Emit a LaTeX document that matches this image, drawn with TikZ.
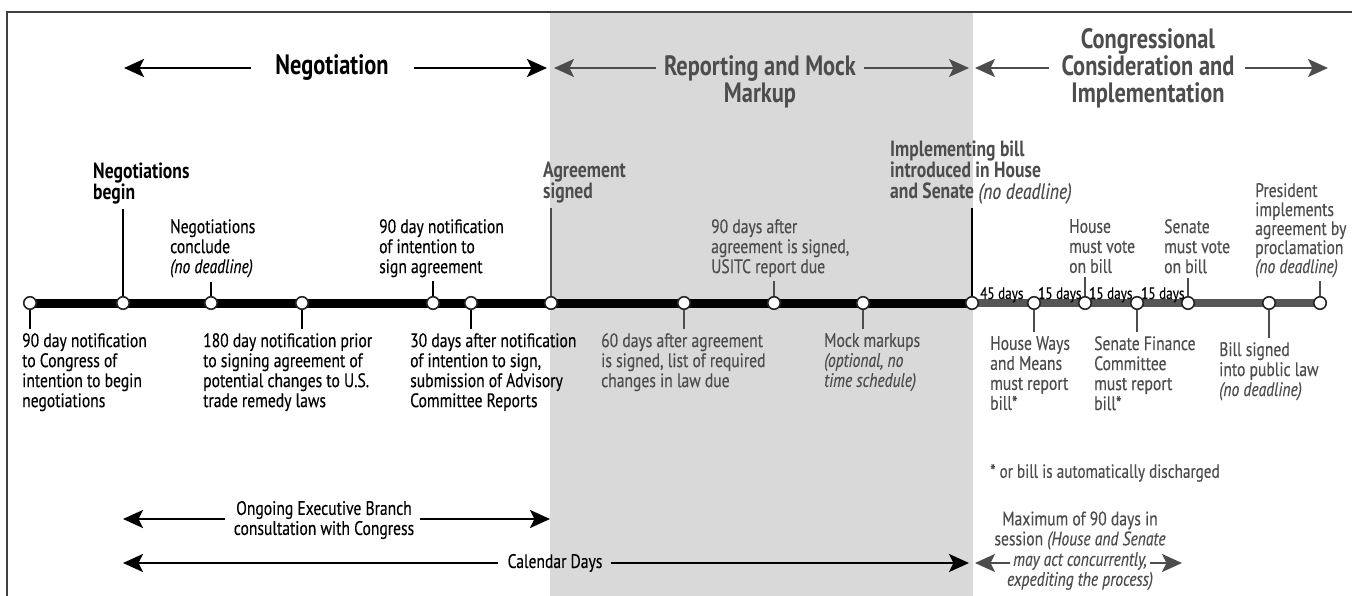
\documentclass[tikz,border=0pt]{standalone}
\usepackage{fontspec}
\setmainfont{PT Sans}[FakeStretch=0.8, UprightFeatures={FakeBold=0.3}, ItalicFeatures={FakeBold=0.3}]
\usetikzlibrary{arrows.meta}
\definecolor{dk}{HTML}{4D4D4D}
\definecolor{bgshade}{HTML}{D9D9D9}
\definecolor{tlgray}{HTML}{555555}
\begin{document}
\begin{tikzpicture}[x=1pt,y=-1pt,
  lbl/.style={anchor=north west, inner sep=0pt, align=left, font=\fontsize{19.5}{20}\selectfont},
  blbl/.style={anchor=north west, inner sep=0pt, align=left, font=\fontsize{22}{21}\selectfont\bfseries},
  ttl/.style={inner sep=0pt, align=center, font=\fontsize{28}{27}\selectfont\bfseries},
  mid/.style={inner sep=0pt, align=center, font=\fontsize{19.5}{20}\selectfont},
  tick/.style={line width=1.3pt},
  dot/.style={circle, draw=black!85, fill=white, line width=1.6pt, minimum size=12.5pt, inner sep=0pt},
  arr/.style={line width=2.8pt, -{Stealth[length=20pt,width=18pt,inset=4.5pt]}},
  days/.style={inner sep=0pt, anchor=base west, font=\fontsize{16.5}{18}\selectfont},
  frameline/.style={line width=1.5pt, black!75},
]
\useasboundingbox (0,0) rectangle (1352,596);
\fill[bgshade] (550,13) rectangle (973,596);
\draw[frameline] (7,596) -- (7,12) -- (1352,12);

% ---------------- titles ----------------
\node[ttl] (tneg) at (332,68) {Negotiation};
\coordinate (negL) at (124,68);
\coordinate (negR) at (547,68);
\draw[arr] ([xshift=-24pt]tneg.west) -- (negL);
\draw[arr] ([xshift=25pt]tneg.east) -- (negR);

\node[ttl, text=dk] (trep) at (760,81.5) {Reporting and Mock\\Markup};
\coordinate (repL) at (554,68);
\coordinate (repR) at (969,68);
\draw[arr, dk, line width=2.2pt] ([xshift=-8pt]trep.west |- repL) -- (repL);
\draw[arr, dk, line width=2.2pt] ([xshift=8pt]trep.east |- repR) -- (repR);

\node[ttl, text=dk] (tcon) at (1148,68) {Congressional\\Consideration and\\Implementation};
\coordinate (conL) at (975,68);
\coordinate (conR) at (1328,68);
\draw[arr, dk, line width=2.2pt] ([xshift=-12pt]tcon.west) -- (conL);
\draw[arr, dk, line width=2.2pt] ([xshift=10pt]tcon.east) -- (conR);

% ---------------- timeline ----------------
\foreach \n/\x in {1/30,2/123,3/211,4/302,5/433,6/471,7/551,8/684,9/774,10/863,11/972,12/1034,13/1085,14/1137,15/1188,16/1269,17/1320}
  \coordinate (c\n) at (\x,303);
\draw[line width=9pt] (c1) -- (c11);
\draw[line width=8pt, tlgray] (c11) -- (c17);
\foreach \n in {1,...,17} \node[dot] (d\n) at (c\n) {};

% ---------------- labels above ----------------
\node[blbl] (nb) at (93,163) {Negotiations\\begin};
\draw[tick] (d2.north) -- ([yshift=-4pt]d2.north |- nb.south);

\node[lbl] (nc) at (170,219) {Negotiations\\conclude\\\textit{(no deadline)}};
\draw[tick] (d3.north) -- ([yshift=-4pt]d3.north |- nc.south);

\node[lbl] (n90) at (379,219) {90 day notification\\of intention to\\sign agreement};
\draw[tick] (d5.north) -- ([yshift=-4pt]d5.north |- n90.south);

\node[blbl, text=dk] (as) at (543,162) {Agreement\\signed};
\draw[tick, dk] (d7.north) -- ([yshift=-4pt]d7.north |- as.south);

\node[lbl, text=dk] (u90) at (711,219) {90 days after\\agreement is signed,\\USITC report due};
\draw[tick, dk] (d9.north) -- ([yshift=-4pt]d9.north |- u90.south);

\node[blbl, text=dk] (ib) at (890,141) {Implementing bill\\introduced in House\\and Senate {\mdseries\itshape (no deadline)}};
\draw[tick] (d11.north) -- ([yshift=-4pt]d11.north |- ib.south);

\node[lbl, text=dk] (hv) at (1069,219) {House\\must vote\\on bill};
\draw[tick, dk] (d13.north) -- ([yshift=-4pt]d13.north |- hv.south);

\node[lbl, text=dk] (sv) at (1164,219) {Senate\\must vote\\on bill};
\draw[tick, dk] (d15.north) -- ([yshift=-4pt]d15.north |- sv.south);

\node[lbl, text=dk, font=\fontsize{19.5}{19}\selectfont] (pr) at (1255,183) {President\\implements\\agreement by\\proclamation\\\textit{(no deadline)}};
\draw[tick, dk] (d17.north) -- ([yshift=-4pt]d17.north |- pr.south);

% ---------------- day counts ----------------
\node[days] (g45) at (980,299) {45 days};
\node[days] (g15a) at (1038,299) {15 days};
\node[days] (g15b) at (1089,299) {15 days};
\node[days] (g15c) at (1141,299) {15 days};

% ---------------- labels below ----------------
\node[lbl] (b1) at (22,333) {90 day notification\\to Congress of\\intention to begin\\negotiations};
\draw[tick] (d1.south) -- ([yshift=4pt]d1.south |- b1.north);

\node[lbl] (b2) at (203,333) {180 day notification prior\\to signing agreement of\\potential changes to U.S.\\trade remedy laws};
\draw[tick] (d4.south) -- ([yshift=4pt]d4.south |- b2.north);

\node[lbl] (b3) at (410,333) {30 days after notification\\of intention to sign,\\submission of Advisory\\Committee Reports};
\draw[tick] (d6.south) -- ([yshift=4pt]d6.south |- b3.north);

\node[lbl, text=dk] (b4) at (601,333) {60 days after agreement\\is signed, list of required\\changes in law due};
\draw[tick, dk] (d8.south) -- ([yshift=4pt]d8.south |- b4.north);

\node[lbl, text=dk] (b5) at (824,333) {Mock markups\\\textit{(optional, no}\\\textit{time schedule)}};
\draw[tick, dk] (d10.south) -- ([yshift=4pt]d10.south |- b5.north);

\node[lbl, text=dk] (b6) at (990,336) {House Ways\\and Means\\must report\\bill*};
\draw[tick, dk] (d12.south) -- ([yshift=4pt]d12.south |- b6.north);

\node[lbl, text=dk] (b7) at (1094,336) {Senate Finance\\Committee\\must report\\bill*};
\draw[tick, dk] (d14.south) -- ([yshift=4pt]d14.south |- b7.north);

\node[lbl, text=dk] (b8) at (1219,342) {Bill signed\\into public law\\\textit{(no deadline)}};
\draw[tick, dk] (d16.south) -- ([yshift=4pt]d16.south |- b8.north);

% ---------------- footnote ----------------
\node[lbl, text=dk, font=\fontsize{19}{20}\selectfont] (fn) at (990,464) {* or bill is automatically discharged};

% ---------------- bottom spans ----------------
\node[mid] (og) at (324,520) {Ongoing Executive Branch\\consultation with Congress};
\coordinate (ogL) at (123,519);
\coordinate (ogR) at (550,519);
\draw[arr] ([xshift=-9pt]og.west |- ogL) -- (ogL);
\draw[arr] ([xshift=6pt]og.east |- ogR) -- (ogR);

\node[mid] (cd) at (555,563) {Calendar Days};
\coordinate (cdL) at (123,563);
\coordinate (cdR) at (969,563);
\draw[arr] ([xshift=-9pt]cd.west) -- (cdL);
\draw[arr] ([xshift=8pt]cd.east) -- (cdR);

\node[mid, text=dk] (mx1) at (1080,530.5) {Maximum of 90 days in\\session \textit{(House and Senate}};
\node[mid, text=dk] (mx2) at (1080,561) {\textit{may act concurrently,}};
\node[mid, text=dk] (mx3) at (1080,581) {\textit{expediting the process)}};
\coordinate (mxL) at (975,563);
\coordinate (mxR) at (1182,563);
\draw[arr, dk, line width=2.2pt] ([xshift=-3pt]mx2.west |- mxL) -- (mxL);
\draw[arr, dk, line width=2.2pt] ([xshift=3pt]mx2.east |- mxR) -- (mxR);
\end{tikzpicture}
\end{document}
